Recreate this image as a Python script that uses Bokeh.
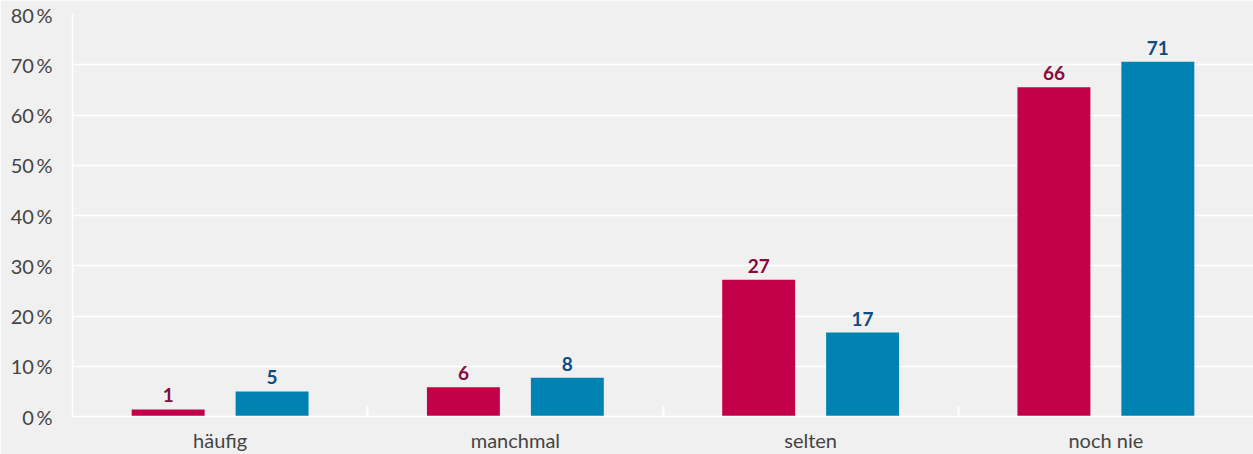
from bokeh.plotting import figure
from bokeh.models import ColumnDataSource, FixedTicker, Range1d
from bokeh.transform import dodge
from bokeh.core.properties import value
from bokeh.embed import file_html
from bokeh.resources import INLINE

categories = ["häufig", "manchmal", "selten", "noch nie"]
series_a = [1.4, 5.8, 27.2, 65.5]
series_b = [5.0, 7.7, 16.7, 70.6]
labels_a = ["1", "6", "27", "66"]
labels_b = ["5", "8", "17", "71"]
y_ticks = [0, 10, 20, 30, 40, 50, 60, 70, 80]

x_pos = [i + 0.5 for i in range(len(categories))]
src = ColumnDataSource(dict(x=x_pos, a=series_a, b=series_b,
                            a_lbl=labels_a, b_lbl=labels_b))

p = figure(width=1253, height=454, output_backend="svg", toolbar_location=None,
           x_range=Range1d(0, len(categories)), y_range=Range1d(0, 80))
p.min_border_left = 72
p.min_border_right = 0
p.min_border_top = 14
p.min_border_bottom = 30
p.background_fill_color = "#f0f0f0"
p.border_fill_color = "#f0f0f0"
p.outline_line_color = None

red = "#c3004a"
blue = "#0083b3"
off = 0.176
w = 0.247

p.vbar(x=dodge("x", -off), top="a", width=w, bottom=0, source=src, color=red, line_color=None)
p.vbar(x=dodge("x", off), top="b", width=w, bottom=0, source=src, color=blue, line_color=None)

p.text(x=dodge("x", -off), y="a", text="a_lbl", source=src, text_align="center",
       text_baseline="bottom", y_offset=-7, text_font=value("Lato"),
       text_font_style="bold", text_font_size="19px", text_color="#850d3d")
p.text(x=dodge("x", off), y="b", text="b_lbl", source=src, text_align="center",
       text_baseline="bottom", y_offset=-7, text_font=value("Lato"),
       text_font_style="bold", text_font_size="19px", text_color="#0f4c81")

# y axis
p.yaxis.ticker = FixedTicker(ticks=y_ticks, minor_ticks=[])
p.yaxis.major_label_overrides = {t: f"{t}\u2009%" for t in y_ticks}
p.yaxis.axis_line_color = "white"
p.yaxis.axis_line_width = 1.5
p.yaxis.major_tick_line_color = None
p.yaxis.major_tick_out = 0
p.yaxis.major_tick_in = 0
p.yaxis.minor_tick_line_color = None
p.yaxis.major_label_standoff = 20
p.yaxis.major_label_text_font = "Lato"
p.yaxis.major_label_text_font_size = "20px"
p.yaxis.major_label_text_color = "#444444"

# x axis
p.xaxis.ticker = FixedTicker(ticks=x_pos, minor_ticks=list(range(1, len(categories))))
p.xaxis.major_label_overrides = {x: c for x, c in zip(x_pos, categories)}
p.xaxis.axis_line_color = "white"
p.xaxis.axis_line_width = 1.5
p.xaxis.major_tick_line_color = None
p.xaxis.major_tick_out = 0
p.xaxis.major_tick_in = 0
p.xaxis.minor_tick_line_color = "white"
p.xaxis.minor_tick_line_width = 2
p.xaxis.minor_tick_in = 10
p.xaxis.minor_tick_out = 0
p.xaxis.major_label_standoff = 11
p.xaxis.major_label_text_font = "Lato"
p.xaxis.major_label_text_font_size = "20px"
p.xaxis.major_label_text_color = "#444444"

p.xgrid.grid_line_color = None
p.ygrid.ticker = FixedTicker(ticks=y_ticks)
p.ygrid.grid_line_color = "white"
p.ygrid.grid_line_width = 1.5

open("out.html", "w").write(file_html(p, INLINE))
